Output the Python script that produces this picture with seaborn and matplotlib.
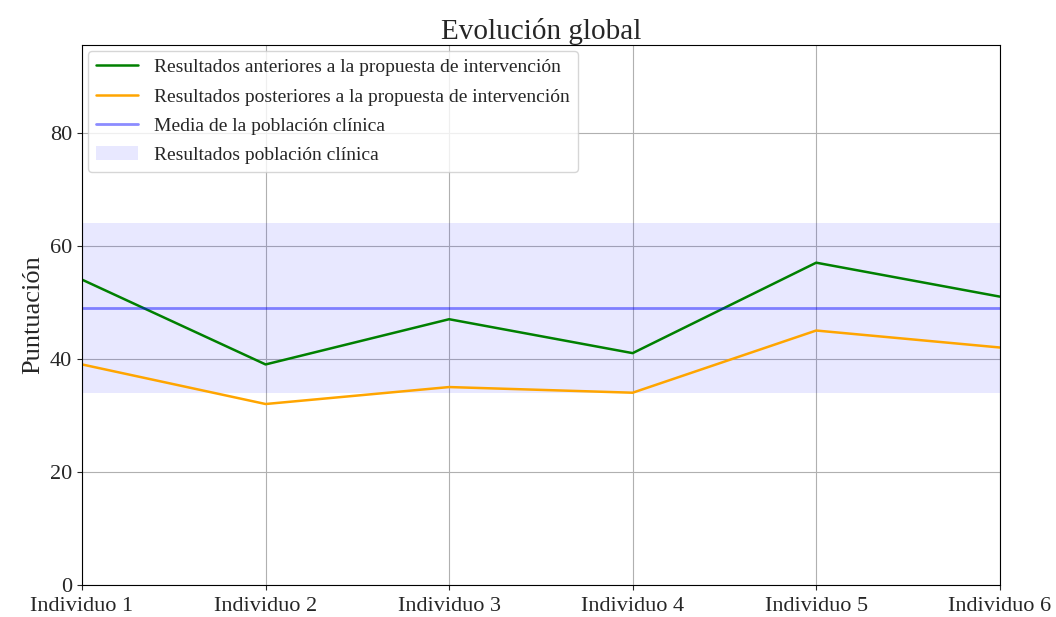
import numpy as np
import pandas as pd
import matplotlib
matplotlib.use("Agg")
import matplotlib.pyplot as plt
import seaborn as sns

# Data
individuos = ["Individuo 1", "Individuo 2", "Individuo 3", "Individuo 4", "Individuo 5", "Individuo 6"]
antes = [54, 39, 47, 41, 57, 51]
despues = [39, 32, 35, 34, 45, 42]
media_clinica = 49
rango_clinico = (34, 64)

sns.set_style("ticks")
plt.rcParams['font.family'] = ['Liberation Serif', 'DejaVu Serif']

df = pd.DataFrame({"Individuo": individuos, "antes": antes, "despues": despues})

fig = plt.figure(figsize=(10.56, 6.17), dpi=100)
ax = fig.add_axes([0.0777, 0.052, 0.869, 0.875])

ax.axhspan(rango_clinico[0], rango_clinico[1], color="blue", alpha=0.09, lw=0,
           label="Resultados población clínica")
sns.lineplot(data=df, x="Individuo", y="antes", color="green", lw=1.8, ax=ax, sort=False,
             label="Resultados anteriores a la propuesta de intervención")
sns.lineplot(data=df, x="Individuo", y="despues", color="orange", lw=1.8, ax=ax, sort=False,
             label="Resultados posteriores a la propuesta de intervención")
ax.axhline(media_clinica, color="blue", alpha=0.45, lw=2,
           label="Media de la población clínica")

# legend order like reference
h, l = ax.get_legend_handles_labels()
order = [l.index("Resultados anteriores a la propuesta de intervención"),
         l.index("Resultados posteriores a la propuesta de intervención"),
         l.index("Media de la población clínica"),
         l.index("Resultados población clínica")]
ax.legend([h[i] for i in order], [l[i] for i in order], loc="upper left",
          fontsize=14, framealpha=0.8, borderaxespad=0.3, labelspacing=0.6,
          handlelength=2.2)

ax.set_xlim(0, len(individuos) - 1)
ax.set_ylim(0, 95.5)
ax.set_yticks([0, 20, 40, 60, 80])
ax.grid(True, color="#b0b0b0", lw=0.8)
ax.set_xlabel("")
ax.set_ylabel("Puntuación", fontsize=19)
ax.set_title("Evolución global", fontsize=21, pad=4)
ax.tick_params(labelsize=16)
ax.tick_params(axis="x", pad=5)
for s in ax.spines.values():
    s.set_color("black")

fig.savefig("out.png", dpi=100)
